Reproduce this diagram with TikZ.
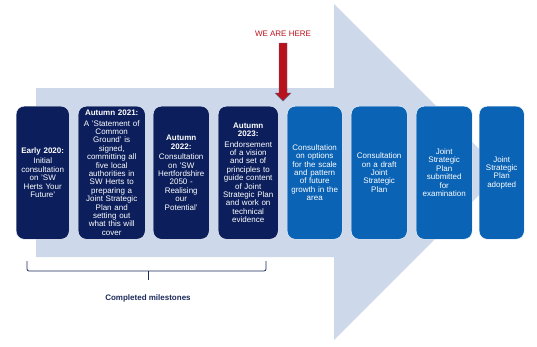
\documentclass[tikz,border=0pt]{standalone}
\usepackage{fontspec}
\setmainfont{Liberation Sans}
\definecolor{navybox}{HTML}{0C1F5C}
\definecolor{bluebox}{HTML}{0A63B5}
\definecolor{arrowbg}{HTML}{CDD9EB}
\definecolor{herered}{HTML}{B8121C}
\definecolor{bracecol}{HTML}{1C2A5A}
\begin{document}
\begin{tikzpicture}[x=1pt,y=-1pt,
  stage/.style={rounded corners=8pt, draw=white, line width=0.4pt, inner sep=0pt,
    align=center, font=\fontsize{8}{8.4}\selectfont, text=white,
    minimum height=133pt, anchor=north west},
  done/.style={stage, fill=navybox},
  todo/.style={stage, fill=bluebox}]
\useasboundingbox (0,0) rectangle (537,346);
% big background arrow
\fill[arrowbg] (36,88) -- (334,88) -- (334,4) -- (502,172) -- (334,340) -- (334,257) -- (36,257) -- cycle;
% stage boxes
\node[done, text width=53pt] (b1) at (16,106) {\textbf{Early 2020:}\\[2pt]Initial\\consultation\\on 'SW\\Herts Your\\Future'};
\node[done, text width=67pt] (b2) at (78,106) {\textbf{Autumn 2021:}\\[2pt]A 'Statement of\\Common\\Ground' is\\signed,\\committing all\\five local\\authorities in\\SW Herts to\\preparing a\\Joint Strategic\\Plan and\\setting out\\what this will\\cover};
\node[done, text width=56pt] (b3) at (153,106) {\textbf{Autumn}\\\textbf{2022:}\\[2pt]Consultation\\on 'SW\\Hertfordshire\\2050 -\\Realising\\our\\Potential'};
\node[done, text width=60pt] (b4) at (218,106) {\textbf{Autumn}\\\textbf{2023:}\\[2pt]Endorsement\\of a vision\\and set of\\principles to\\guide content\\of Joint\\Strategic Plan\\and work on\\technical\\evidence\\[8pt]};
\node[todo, text width=55pt] (b5) at (287,106) {Consultation\\on options\\for the scale\\and pattern\\of future\\growth in the\\area};
\node[todo, text width=56pt] (b6) at (351,106) {Consultation\\on a draft\\Joint\\Strategic\\Plan};
\node[todo, text width=56pt] (b7) at (416,106) {Joint\\Strategic\\Plan\\submitted\\for\\examination};
\node[todo, text width=45pt] (b8) at (479,106) {Joint\\Strategic\\Plan\\adopted};
% we are here
\node[text=herered, font=\fontsize{8}{9}\selectfont, inner sep=0pt] (here) at (283,34) {WE ARE HERE};
\filldraw[fill=herered, draw=bracecol!70, line width=0.4pt]
  (279,43) -- (287,43) -- (287,93) -- (291,93) -- (283,101) -- (275,93) -- (279,93) -- cycle;
% brace
\coordinate (bl) at (27,261);
\coordinate (br) at (266,261);
\coordinate (bm) at (148,271);
\draw[bracecol, line width=0.8pt, rounded corners=2pt] (bl) -- (27,271) -- (266,271) -- (br);
\draw[bracecol, line width=0.8pt] (bm) -- (148,280);
\node[text=bracecol, font=\fontsize{8}{9}\selectfont\bfseries, inner sep=0pt] (cm) at (148,298) {Completed milestones};
\end{tikzpicture}
\end{document}
